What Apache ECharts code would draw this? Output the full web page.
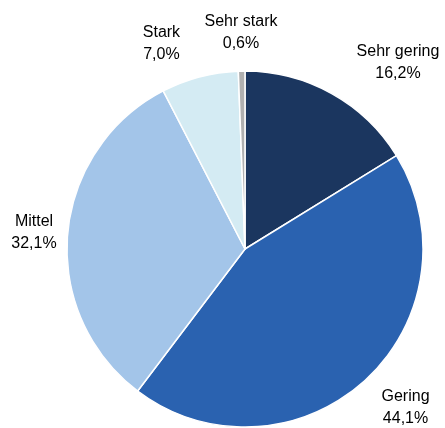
<!DOCTYPE html>
<html>
<head>
<meta charset="utf-8">
<script src="https://cdn.jsdelivr.net/npm/echarts@6/dist/echarts.min.js"></script>
<style>
  html, body { margin: 0; padding: 0; background: #fff; }
  #chart { width: 445px; height: 428px; }
</style>
</head>
<body>
<div id="chart"></div>
<script>
const categories = ['Sehr gering', 'Gering', 'Mittel', 'Stark', 'Sehr stark']
const values = [16.2, 44.1, 32.1, 7.0, 0.6]
const colors = ['#1b365f', '#2a62b0', '#a3c5e9', '#d4ebf3', '#b0b0b0']
// nudge of each label from the default outside position
const labelShift = [[15, -22], [5, 20], [4, 0], [-12, -24], [41, -28]]

const chart = echarts.init(document.getElementById('chart'), null, { renderer: 'canvas' })

const option = {
  animation: false,
  backgroundColor: '#fff',
  series: [
    {
      type: 'pie',
      center: [245, 249],
      radius: 178,
      startAngle: 90,
      clockwise: true,
      avoidLabelOverlap: false,
      itemStyle: { borderColor: '#fff', borderWidth: 1.5 },
      label: {
        show: true,
        position: 'outside',
        color: '#000',
        fontFamily: 'Liberation Sans, Arial, sans-serif',
        fontSize: 16,
        lineHeight: 22,
        formatter: p => p.name + '\n' + p.value.toFixed(1).replace('.', ',') + '%'
      },
      labelLine: { show: false, length: 10, length2: 0 },
      labelLayout: p => ({
        x: p.labelRect.x + p.labelRect.width / 2 + labelShift[p.dataIndex][0],
        y: p.labelRect.y + p.labelRect.height / 2 + labelShift[p.dataIndex][1],
        align: 'center',
        verticalAlign: 'middle'
      }),
      data: categories.map((c, i) => ({
        name: c,
        value: values[i],
        itemStyle: { color: colors[i] }
      }))
    }
  ]
}

chart.setOption(option)
</script>
</body>
</html>
